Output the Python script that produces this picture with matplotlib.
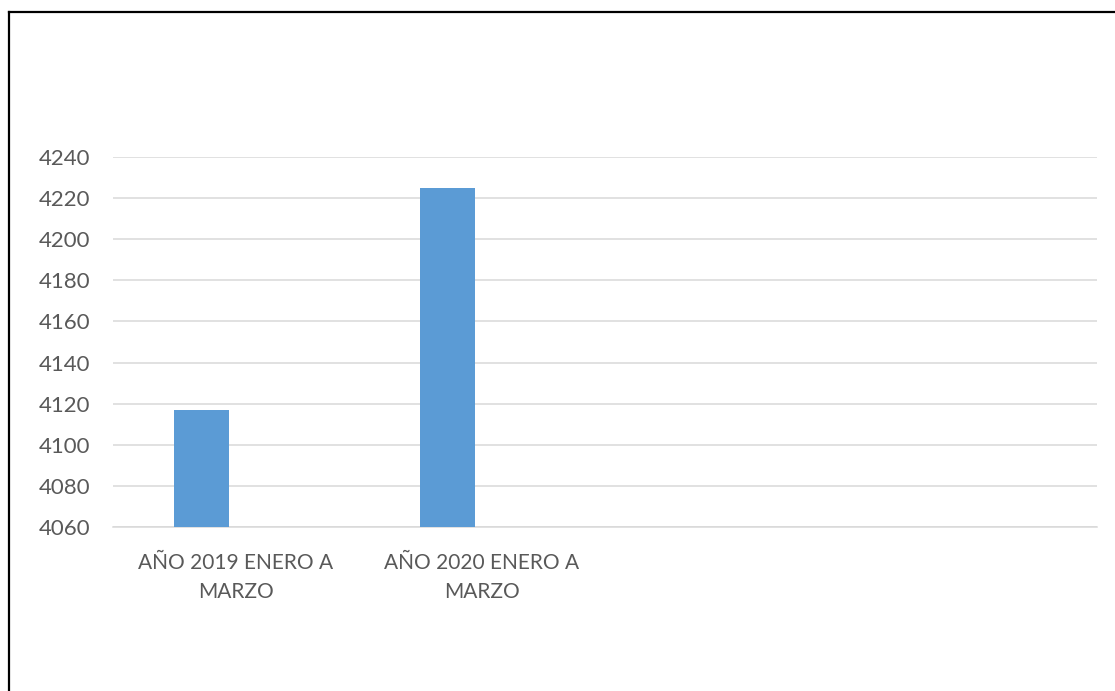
import matplotlib
matplotlib.use("Agg")
import matplotlib.pyplot as plt
from matplotlib.lines import Line2D
import numpy as np

categories = ["AÑO 2019 ENERO A\nMARZO", "AÑO 2020 ENERO A\nMARZO", "", ""]
values = [4117, 4225, np.nan, np.nan]
yticks = [4060, 4080, 4100, 4120, 4140, 4160, 4180, 4200, 4220, 4240]

W, H = 1115, 691
fig = plt.figure(figsize=(W / 100, H / 100), dpi=100)
fig.patch.set_facecolor("white")

ax = fig.add_axes([113 / W, 1 - 527 / H, (1097 - 113) / W, (527 - 157) / H])
x = np.arange(len(categories))
slot = (1097 - 113) / 4
ax.bar(x - 34.5 / slot, values, width=55 / slot, color="#5B9BD5", zorder=3)

ax.set_xlim(-0.5, len(categories) - 0.5)
ax.set_ylim(yticks[0], yticks[-1])
ax.set_yticks(yticks)
ax.set_xticks(x)
ax.set_xticklabels(categories, fontsize=15, color="#595959", family="Lato", linespacing=1.55)
for lab in ax.get_yticklabels():
    lab.set_fontsize(16)
    lab.set_color("#595959")
    lab.set_family("Lato")
ax.grid(axis="y", color="#D9D9D9", linewidth=1.1, zorder=0)
ax.tick_params(axis="both", length=0)
ax.tick_params(axis="y", pad=16.5)
ax.tick_params(axis="x", pad=19)
for s in ["top", "right", "left"]:
    ax.spines[s].set_visible(False)
ax.spines["bottom"].set_color("#D9D9D9")
ax.spines["bottom"].set_linewidth(1.1)

# outer frame (clipped on right and bottom)
fig.add_artist(Line2D([8.5 / W, 8.5 / W], [0, 1 - 12 / H], transform=fig.transFigure, color="black", linewidth=1.6))
fig.add_artist(Line2D([8.5 / W, 1], [1 - 12 / H, 1 - 12 / H], transform=fig.transFigure, color="black", linewidth=1.6))

fig.savefig("out.png", dpi=100, facecolor="white")
